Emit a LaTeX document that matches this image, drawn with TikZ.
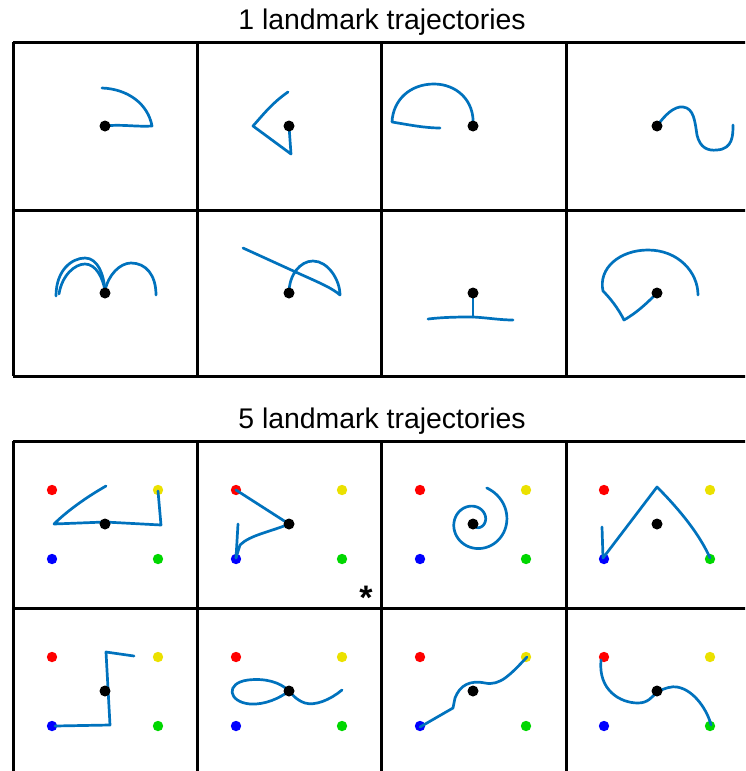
\documentclass[tikz,border=0pt]{standalone}
\usepackage{fontspec}
\setmainfont{Liberation Sans}
\definecolor{traj}{RGB}{0,114,189}
\definecolor{lmred}{RGB}{255,0,0}
\definecolor{lmyel}{RGB}{235,225,0}
\definecolor{lmblu}{RGB}{0,0,255}
\definecolor{lmgrn}{RGB}{0,215,0}
\begin{document}
\begin{tikzpicture}[x=1pt,y=-1pt,
  gridline/.style={line width=3pt, black},
  tr/.style={traj, line width=2.7pt, line cap=round, line join=round},
  dot/.style={circle, fill=black, inner sep=0pt, minimum size=11pt},
  title/.style={font=\fontsize{28.4}{32}\selectfont, inner sep=0pt},
  landmarks/.pic={
    \fill[lmred] (-53,-34) circle (5.2pt);
    \fill[lmyel] (53,-34) circle (5.2pt);
    \fill[lmblu] (-53,35) circle (5.2pt);
    \fill[lmgrn] (53,35) circle (5.2pt);
  }]
\useasboundingbox (0,0) rectangle (745,771);
\clip (0,0) rectangle (745,771);
% titles
\node[title] (t1) at (382,22) {1 landmark trajectories};
\node[title] (t5) at (382,421) {5 landmark trajectories};
% grids
\foreach \y in {42,210,376} \draw[gridline] (13,\y) -- (760,\y);
\foreach \x in {13,197,381,566} \draw[gridline] (\x,42) -- (\x,376);
\foreach \y in {441,608} \draw[gridline] (13,\y) -- (760,\y);
\foreach \x in {13,197,381,566} \draw[gridline] (\x,441) -- (\x,780);
% landmarks
\foreach \x in {105,289,473,657} {
  \pic at (\x,524) {landmarks};
  \pic at (\x,691) {landmarks};
}
% ---- 1 landmark trajectories, row 1
\draw[tr] (105,126) .. controls (120,124) and (136,127) .. (152,126)
  .. controls (148,104) and (128,89) .. (102,88);
\draw[tr] (289,126) -- (291,154) -- (253,126) .. controls (262,116) and (272,103) .. (288,92);
\draw[tr] (473,126) .. controls (475,100) and (456,84) .. (434,84)
  .. controls (410,84) and (393,100) .. (392,122)
  .. controls (410,125) and (425,128) .. (440,128);
\draw[tr] (657,126) .. controls (665,115) and (674,106) .. (683,107)
  .. controls (694,108) and (695,122) .. (697,135)
  .. controls (700,148) and (708,151) .. (717,150)
  .. controls (733,149) and (733,135) .. (733,125);
% row 2
\draw[tr] (56,296) .. controls (56,270) and (72,258) .. (85,258) .. controls (98,258) and (104,275) .. (105,291);
\draw[tr] (59,294) .. controls (62,275) and (75,264) .. (85,264) .. controls (96,264) and (103,278) .. (105,291);
\draw[tr] (105,291) .. controls (108,275) and (120,263) .. (131,263) .. controls (146,263) and (156,275) .. (156,295);
\draw[tr] (289,293) .. controls (289,275) and (300,261) .. (313,261)
  .. controls (328,261) and (340,280) .. (340,295)
  .. controls (332,288) and (320,283) .. (300,274) -- (243,248);
\draw[tr] (473,293) -- (473,317);
\draw[tr] (428,319) .. controls (445,317) and (460,317) .. (473,317) .. controls (490,318) and (500,320) .. (513,320);
\draw[tr] (657,293) .. controls (648,302) and (638,312) .. (624,320)
  .. controls (618,308) and (610,298) .. (603,291)
  .. controls (598,268) and (620,250) .. (648,250)
  .. controls (678,250) and (698,272) .. (698,295);
% ---- 5 landmark trajectories, row 1
\draw[tr] (106,486) .. controls (85,498) and (66,512) .. (54,524) -- (105,522) -- (161,525) -- (158,491);
\draw[tr] (236,490) -- (289,524) .. controls (270,532) and (250,535) .. (240,545) -- (236,558);
\draw[tr] (238,524) -- (236,558);
\draw[tr] plot[domain=0:600, samples=120, smooth] ({475+0.06*\x*cos(\x+191)},{522-0.06*\x*sin(\x+191)});
\draw[tr] (602,527) -- (603,558) -- (657,487) .. controls (680,510) and (700,535) .. (710,558);
% row 2
\draw[tr] (55,726) -- (110,725) -- (106,652) -- (134,656);
\draw[tr] (342,690) .. controls (330,700) and (315,706) .. (305,703)
  .. controls (296,700) and (292,694) .. (289,691)
  .. controls (280,682) and (265,678) .. (248,680)
  .. controls (225,683) and (228,702) .. (250,704)
  .. controls (265,705) and (280,698) .. (289,691);
\draw[tr] (420,727) -- (453,708) -- (455,698) .. controls (460,685) and (470,680) .. (485,683)
  .. controls (500,686) and (510,675) .. (527,657);
\draw[tr] (601,660) .. controls (598,690) and (620,703) .. (638,703)
  .. controls (648,703) and (652,697) .. (657,692)
  .. controls (665,688) and (672,686) .. (677,687)
  .. controls (695,690) and (708,712) .. (711,725);
% dots
\foreach \x/\n in {105/a,289/b,473/c,657/d} {
  \node[dot] (u1\n) at (\x,126) {};
  \node[dot] (u2\n) at (\x,293) {};
  \node[dot] (f1\n) at (\x,524) {};
  \node[dot] (f2\n) at (\x,691) {};
}
\node[font=\fontsize{34}{34}\selectfont\bfseries, inner sep=0pt] (star) at (366,598) {*};
\end{tikzpicture}
\end{document}
